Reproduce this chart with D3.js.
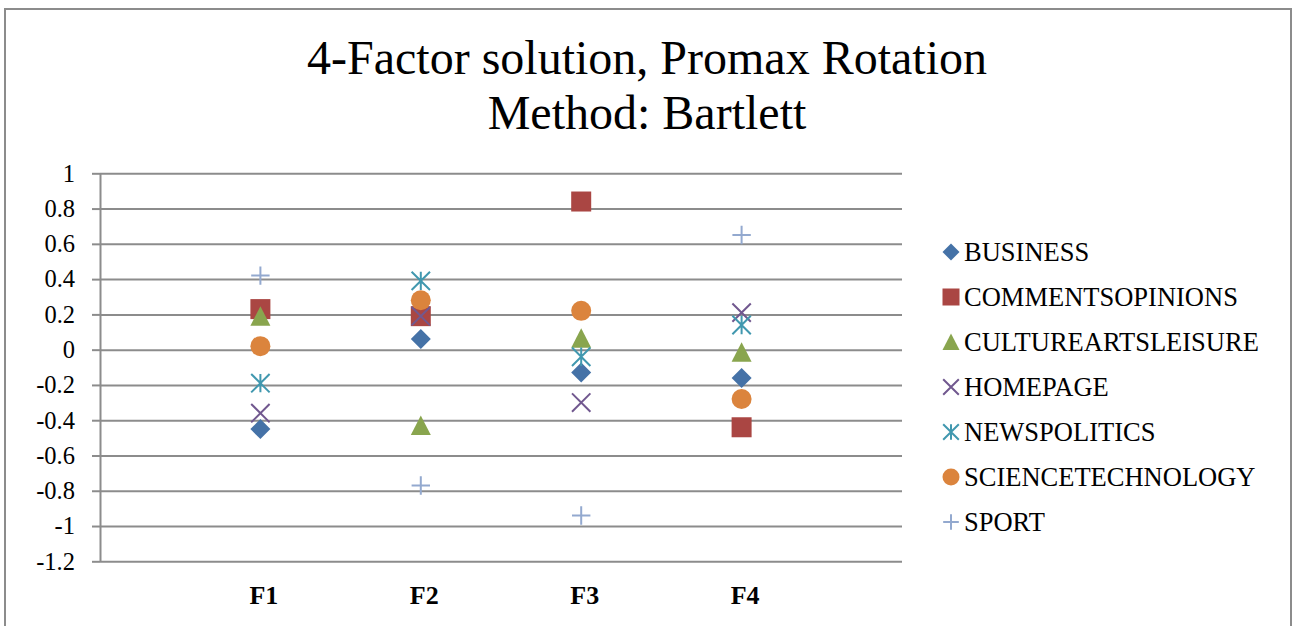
<!DOCTYPE html>
<html>
<head>
<meta charset="utf-8">
<script src="https://d3js.org/d3.v7.min.js"></script>
<style>
  html, body { margin: 0; padding: 0; background: #fff; }
  svg { display: block; font-family: "Liberation Serif", "Times New Roman", serif; }
</style>
</head>
<body>
<svg id="chart" width="1293" height="626"></svg>
<script>
// Factor loadings per category (F1..F4)
const factors = ["F1", "F2", "F3", "F4"];
const seriesNames = ["BUSINESS", "COMMENTSOPINIONS", "CULTUREARTSLEISURE", "HOMEPAGE", "NEWSPOLITICS", "SCIENCETECHNOLOGY", "SPORT"];
const business          = [-0.45,  0.06, -0.13, -0.16];
const commentsOpinions  = [ 0.23,  0.19,  0.84, -0.44];
const cultureArtsLeisure= [ 0.19, -0.43,  0.065, -0.014];
const homepage          = [-0.36,  0.19, -0.30,  0.21];
const newsPolitics      = [-0.19,  0.39, -0.04,  0.14];
const scienceTechnology = [ 0.02,  0.28,  0.22, -0.28];
const sport             = [ 0.42, -0.77, -0.94,  0.65];
const yTicks = [1, 0.8, 0.6, 0.4, 0.2, 0, -0.2, -0.4, -0.6, -0.8, -1, -1.2];

const seriesValues = [business, commentsOpinions, cultureArtsLeisure, homepage, newsPolitics, scienceTechnology, sport];
const colors = ["#4572A7", "#AA4643", "#89A54E", "#71588F", "#4198AF", "#DB843D", "#93A9CF"];
const shapes = ["diamond", "square", "triangle", "x", "star", "circle", "plus"];

const svg = d3.select("#chart");
const gridColor = "#8c8c8c";

// chart frame
svg.append("rect")
  .attr("x", 5).attr("y", 9).attr("width", 1286).attr("height", 640)
  .attr("fill", "none").attr("stroke", "#8c8c8c").attr("stroke-width", 2);

// title
const title = svg.append("text")
  .attr("text-anchor", "middle")
  .attr("font-size", 48)
  .attr("fill", "#000");
title.append("tspan").attr("x", 647).attr("y", 74).text("4-Factor solution, Promax Rotation");
title.append("tspan").attr("x", 647).attr("y", 129).text("Method: Bartlett");

const plot = { left: 100, right: 902, top: 173.3, bottom: 561.3 };
const x = d3.scaleLinear().domain([0, 5]).range([plot.left, plot.right]);
const y = d3.scaleLinear().domain([-1.2, 1]).range([plot.bottom, plot.top]);

// horizontal gridlines
const grid = svg.append("g")
  .attr("transform", `translate(${plot.left},0)`)
  .call(d3.axisLeft(y).tickValues(yTicks).tickSize(-(plot.right - plot.left)).tickFormat(""));
grid.select(".domain").remove();
grid.selectAll("line").attr("stroke", gridColor).attr("stroke-width", 2);

// y axis with outward ticks and labels
const yAxis = svg.append("g")
  .attr("transform", `translate(${plot.left},0)`)
  .call(d3.axisLeft(y).tickValues(yTicks).tickSize(8).tickSizeOuter(0).tickPadding(17)
    .tickFormat(d => String(+d.toFixed(1))));
yAxis.select(".domain").attr("stroke", gridColor).attr("stroke-width", 2);
yAxis.selectAll(".tick line").attr("stroke", gridColor).attr("stroke-width", 2);
yAxis.selectAll(".tick text")
  .attr("font-family", "Liberation Serif, Times New Roman, serif")
  .attr("font-size", 24.5).attr("fill", "#000");

// category axis
const xAxis = svg.append("g")
  .attr("transform", `translate(0,${plot.bottom})`)
  .call(d3.axisBottom(x).tickValues([1, 2, 3, 4]).tickSize(0).tickPadding(24)
    .tickFormat(d => factors[d - 1]));
xAxis.select(".domain").remove();
xAxis.selectAll(".tick text")
  .attr("font-family", "Liberation Serif, Times New Roman, serif")
  .attr("dx", 3)
  .attr("font-size", 26).attr("font-weight", "bold").attr("fill", "#000");

// marker drawing
function drawMarker(g, shape, color, s) {
  const h = s / 2;
  switch (shape) {
    case "diamond":
      g.append("path").attr("d", `M0,${-h}L${h},0L0,${h}L${-h},0Z`).attr("fill", color);
      break;
    case "square":
      g.append("rect").attr("x", -h).attr("y", -h).attr("width", s).attr("height", s).attr("fill", color);
      break;
    case "triangle":
      g.append("path").attr("d", `M0,${-h}L${h},${h * 0.95}L${-h},${h * 0.95}Z`).attr("fill", color);
      break;
    case "circle":
      g.append("circle").attr("r", h).attr("fill", color);
      break;
    case "x": {
      const a = h * 0.92;
      g.append("path").attr("d", `M${-a},${-a}L${a},${a}M${-a},${a}L${a},${-a}`)
        .attr("stroke", color).attr("stroke-width", 2).attr("fill", "none");
      break;
    }
    case "star": {
      const a = h * 0.92;
      g.append("path").attr("d", `M${-a},${-a}L${a},${a}M${-a},${a}L${a},${-a}M0,${-a}L0,${a}`)
        .attr("stroke", color).attr("stroke-width", 2).attr("fill", "none");
      break;
    }
    case "plus": {
      const a = h * 0.92;
      g.append("path").attr("d", `M${-a},0L${a},0M0,${-a}L0,${a}`)
        .attr("stroke", color).attr("stroke-width", 2).attr("fill", "none");
      break;
    }
  }
}

// data points
seriesValues.forEach((vals, si) => {
  const g = svg.append("g").attr("class", "series");
  vals.forEach((v, i) => {
    const m = g.append("g").attr("transform", `translate(${x(i + 1)},${y(v)})`);
    drawMarker(m, shapes[si], colors[si], 20);
  });
});

// legend
const legend = svg.append("g");
seriesNames.forEach((name, i) => {
  const row = legend.append("g").attr("transform", `translate(0,${261 + i * 45})`);
  const m = row.append("g").attr("transform", `translate(951,-9)`);
  drawMarker(m, shapes[i], colors[i], 17);
  row.append("text").attr("x", 964).attr("y", 0)
    .attr("font-size", 26.5).attr("fill", "#000").text(name);
});
</script>
</body>
</html>
